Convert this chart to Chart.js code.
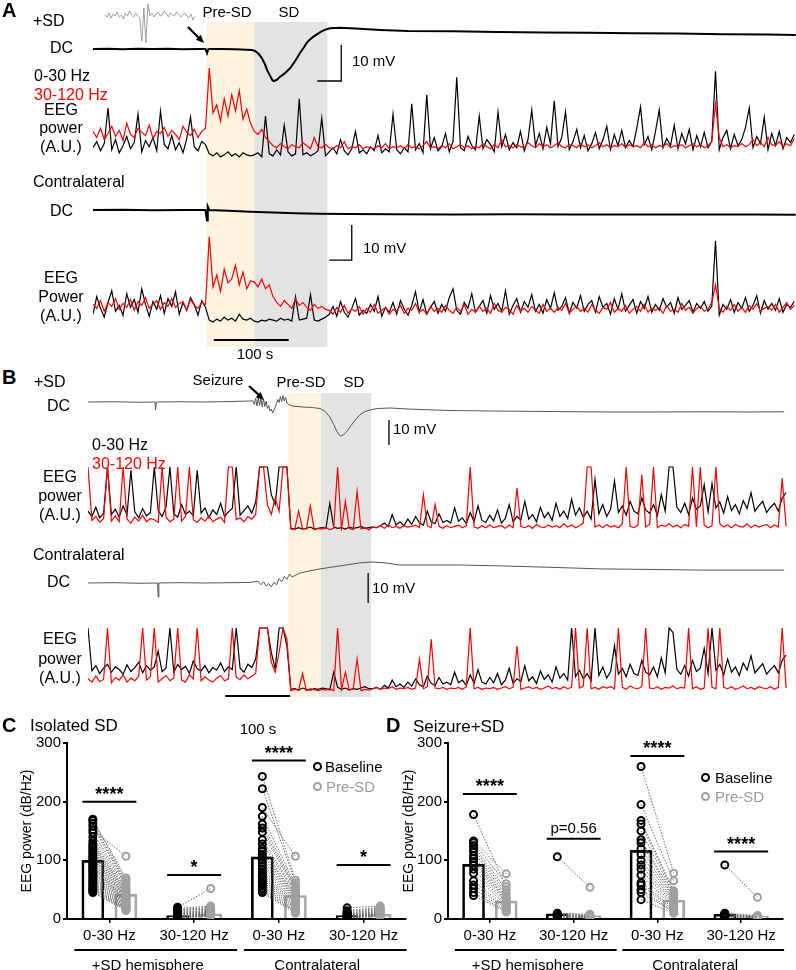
<!DOCTYPE html>
<html>
<head>
<meta charset="utf-8">
<script src="https://cdn.jsdelivr.net/npm/chart.js@4.4.1/dist/chart.umd.min.js"></script>
<style>
html, body { margin: 0; padding: 0; background: #fff; }
#page { position: relative; width: 796px; height: 970px; overflow: hidden; font-family: "Liberation Sans", Arial, sans-serif; }
.t { position: absolute; white-space: nowrap; line-height: 1; font-size: 16px; color: #000; transform: translateY(-50%); z-index: 3; }
.c { transform: translate(-50%, -50%); }
.red { color: #ff0000; }
.lbl { font-weight: bold; font-size: 20px; }
.s15 { font-size: 15px; }
.s17 { font-size: 17px; }
.dot { position: absolute; width: 5px; height: 5px; border: 2px solid #000; border-radius: 50%; z-index: 3; }
svg { position: absolute; left: 0; top: 0; z-index: 4; }
</style>
</head>
<body>
<div id="page">
  <!-- panel A -->
  <div class="t lbl" style="left:2px;top:10px">A</div>
  <div class="t" style="left:33px;top:21px">+SD</div>
  <div class="t c s15" style="left:227px;top:11px">Pre-SD</div>
  <div class="t c s15" style="left:289px;top:11px">SD</div>
  <div class="t" style="left:50px;top:48px">DC</div>
  <div class="t s15" style="left:352px;top:60px">10 mV</div>
  <div class="t" style="left:34px;top:76px">0-30 Hz</div>
  <div class="t red" style="left:34px;top:95px">30-120 Hz</div>
  <div class="t c" style="left:61px;top:110px">EEG</div>
  <div class="t c" style="left:61px;top:128px">power</div>
  <div class="t c" style="left:61px;top:147px">(A.U.)</div>
  <div class="t" style="left:33px;top:182px">Contralateral</div>
  <div class="t" style="left:50px;top:211px">DC</div>
  <div class="t s15" style="left:363px;top:247px">10 mV</div>
  <div class="t c" style="left:61px;top:278px">EEG</div>
  <div class="t c" style="left:61px;top:297px">Power</div>
  <div class="t c" style="left:61px;top:316px">(A.U.)</div>
  <div class="t c s15" style="left:255px;top:353px">100 s</div>
  <!-- panel B -->
  <div class="t lbl" style="left:2px;top:377px">B</div>
  <div class="t" style="left:34px;top:382px">+SD</div>
  <div class="t c s15" style="left:218px;top:379px">Seizure</div>
  <div class="t c s15" style="left:301px;top:381px">Pre-SD</div>
  <div class="t c s15" style="left:354px;top:381px">SD</div>
  <div class="t" style="left:47px;top:406px">DC</div>
  <div class="t s15" style="left:393px;top:428px">10 mV</div>
  <div class="t" style="left:92px;top:445px">0-30 Hz</div>
  <div class="t red" style="left:92px;top:464px">30-120 Hz</div>
  <div class="t c" style="left:60px;top:477px">EEG</div>
  <div class="t c" style="left:60px;top:496px">power</div>
  <div class="t c" style="left:60px;top:515px">(A.U.)</div>
  <div class="t" style="left:33px;top:555px">Contralateral</div>
  <div class="t" style="left:47px;top:582px">DC</div>
  <div class="t s15" style="left:372px;top:587px">10 mV</div>
  <div class="t c" style="left:60px;top:639px">EEG</div>
  <div class="t c" style="left:60px;top:659px">power</div>
  <div class="t c" style="left:60px;top:678px">(A.U.)</div>
  <div class="t c s15" style="left:258px;top:728px">100 s</div>
  <!-- panels C and D -->
  <div class="t lbl" style="left:2px;top:725px">C</div>
  <div class="t s17" style="left:30px;top:725px">Isolated SD</div>
  <div class="t lbl" style="left:386px;top:725px">D</div>
  <div class="t s17" style="left:413px;top:726px">Seizure+SD</div>
  <div class="dot" style="left:312.5px;top:761.5px"></div>
  <div class="t s15" style="left:325px;top:766px">Baseline</div>
  <div class="dot" style="left:312.5px;top:781.5px;border-color:#a0a0a0"></div>
  <div class="t s15" style="left:326px;top:786px;color:#9a9a9a">Pre-SD</div>
  <div class="dot" style="left:700.5px;top:772.5px"></div>
  <div class="t s15" style="left:715px;top:777px">Baseline</div>
  <div class="dot" style="left:700.5px;top:791.5px;border-color:#a0a0a0"></div>
  <div class="t s15" style="left:715px;top:796px;color:#9a9a9a">Pre-SD</div>
  <svg width="796" height="970">
    <line x1="188" y1="27" x2="199" y2="38" stroke="#000" stroke-width="2.2"/>
    <polygon points="204,43 195.8,39.8 200.8,34.8" fill="#000"/>
    <line x1="249" y1="386" x2="259" y2="395" stroke="#000" stroke-width="2.2"/>
    <polygon points="264,400 255.7,397.2 260.5,392" fill="#000"/>
  </svg>
</div>
<script>
// ---- panel A (isolated SD), time in s, EEG power in A.U.
const aDt = 5;
const aPreSD = [152, 215];
const aSD = [215, 312];
const aTimeBar = [161, 261];

const inset = [31,29,33,28,32,30,34,29,31,27,33,30,35,31,29,33,30,28,5,38,3,42,30,33,29,32,34,30,31,35,32,29,33,31,30,34,32,29,31,33,30,28,32,26,30];

const dcA1T = [0,20,40,60,80,100,120,140,150,152,154,170,190,205,212,216,221,225,229,232,236,239,241,245,249,256,263,270,276,281,285,289,293,298,303,309,316,330,350,383,420,480,540,600,660,720,780,840,900,937];
const dcA1V = [0,0.1,-0.1,0.1,0,0.1,-0.1,0,0,-1.2,0,0,-0.1,-0.2,-0.3,-0.55,-1.4,-2.5,-4.1,-5.8,-7.4,-8.6,-8.9,-8.6,-7.8,-6.7,-5.3,-3.2,-1.1,0.4,1.7,2.6,3.3,4.0,4.7,5.3,5.75,5.9,5.7,5.3,5.0,4.9,4.7,4.6,4.5,4.4,4.3,4.1,4.0,3.9];
const dcA2T = [0,40,80,120,150,152,153,155,180,210,240,270,300,340,400,480,560,640,720,800,880,937];
const dcA2V = [0,0.1,-0.1,0,0,-3.0,1.0,0,-0.2,-0.5,-0.7,-0.9,-1.05,-1.15,-1.2,-1.3,-1.2,-1.3,-1.25,-1.3,-1.3,-1.35];
const barA1T = [331, 331, 299], barA1V = [1.11, -8.89, -8.89];
const barA2T = [345, 345, 315], barA2V = [-4.29, -14.29, -14.29];

const eegA1Black = [14,20,11,18,53,12,22,9,16,25,13,19,47,10,21,15,24,11,50,17,13,26,12,19,9,23,44,15,11,20,17,
  8,6,9,5,7,10,6,8,5,9,7,6,
  7,9,5,45,8,6,12,7,36,10,6,8,62,7,9,6,8,11,43,6,
  10,14,8,22,11,7,13,30,9,12, 8,15,11,26,9,13,10,47,12,8, 14,10,57,12,18,9,66,13,24,11,
  15,28,10,20,83,14,11,25,16,12, 45,13,22,17,10,49,15,27,12,19, 14,30,11,22,51,16,28,13,34,18,
  60,15,24,49,12,20,32,14,26,11, 18,29,13,22,35,12,27,16,31,14, 21,15,33,54,17,25,12,30,51,14,
  23,16,36,13,28,18,32,12,26,15, 29,14,20,89,12,24,31,13,27,16, 22,34,53,14,25,18,44,12,28,16,
  30,13,24,19,27];
const eegA1Red = [30,24,33,22,28,35,25,31,21,38,27,24,33,29,26,36,23,30,28,34,25,31,27,22,35,29,26,32,24,30,33,
  92,48,56,40,62,45,66,50,70,42,52,38,
  30,27,32,24,20,16,14,18,15,13,17,15,14,19,16,13,24,15,14,17,
  14,13,16,14,20,13,15,14,17,13, 15,14,13,16,14,18,13,15,14,16, 13,17,14,15,13,16,20,14,15,13,
  16,14,18,13,15,17,14,16,13,15, 14,18,15,13,17,14,22,15,16,14, 17,15,14,19,16,14,18,15,17,14,
  16,19,15,14,17,16,14,18,15,17, 14,16,19,15,17,14,16,15,18,14, 17,15,16,14,19,15,17,14,16,15,
  18,14,16,15,17,14,16,18,15,17, 14,16,20,57,24,15,17,14,16,15, 18,15,17,22,16,19,15,24,17,16,
  20,15,18,16,23];
const eegA2Black = [12,30,18,9,24,36,15,21,11,33,19,27,14,38,22,10,25,17,31,13,28,20,35,12,24,16,29,22,11,26,19,
  6,4,7,5,9,6,8,5,12,7,6,8,
  5,4,6,5,7,6,5,8,6,7,5,30,6,7,8,32,6,5,7,9,
  12,20,10,25,14,9,18,28,11,16, 13,22,15,30,10,19,14,24,12,26, 17,11,21,35,14,27,12,19,25,13,
  22,15,29,38,16,12,24,18,33,14, 20,26,13,31,17,23,15,36,12,21, 28,14,25,19,32,15,22,13,27,18,
  34,16,20,29,13,24,18,31,15,22, 26,14,30,19,23,12,28,17,33,15, 21,27,13,25,18,30,14,22,16,28,
  19,24,13,29,17,21,26,14,23,18, 25,15,20,87,11,22,17,27,14,24, 18,29,15,21,31,13,26,17,23,16,
  28,14,22,19,25];
const eegA2Red = [22,18,26,15,24,20,28,17,23,19,27,16,25,21,29,18,22,26,17,24,20,28,19,23,25,16,27,21,18,24,22,
  91,40,52,35,58,44,48,62,42,55,38,46,
  45,40,48,38,42,30,24,20,26,22,18,28,21,24,19,16,22,18,20,17,
  16,12,19,14,21,13,17,15,20,12, 18,14,22,13,16,19,12,17,15,21, 13,18,16,23,14,17,12,20,15,18,
  14,21,16,13,19,15,22,12,17,14, 20,15,18,13,23,16,14,19,17,12, 21,15,18,14,20,16,13,22,15,18,
  14,19,16,23,13,17,20,15,18,14, 22,16,13,19,17,24,14,18,15,21, 13,17,20,15,22,14,18,16,19,13,
  21,15,17,14,23,16,19,13,18,20, 15,17,24,42,18,14,20,16,22,15, 19,14,21,17,23,15,18,20,16,22,
  14,19,24,17,21];

// ---- panel B (seizure + SD)
const bDt = 6;
const bPreSD = [309, 358];
const bSD = [358, 435];
const bTimeBar = [211, 311];

const dcB1T = [0,40,80,103,104,105,140,180,220,250,254,256,258,260,262,264,266,268,270,272,274,276,278,280,282,284,286,288,290,292,294,296,298,300,302,304,306,308,314,330,345,357,365,372,378,383,388,393,398,403,410,418,426,434,445,465,500,557,620,711,800,865,950,1020,1071];
const dcB1V = [0,0.1,-0.1,0,-3.2,0,0.1,0,0.2,0.4,0.5,-1.0,1.4,-1.6,1.8,-1.4,1.6,-2.0,1.2,-1.8,0.4,-2.6,-1.4,-3.6,-2.8,-4.4,-3.2,-2.2,-0.6,1.0,-0.2,2.2,0.2,2.6,0.4,1.8,-0.4,-0.8,-1.6,-2.0,-2.2,-2.6,-3.8,-6.0,-9.0,-11.8,-13.6,-13.2,-11.8,-10.0,-7.6,-5.2,-3.8,-3.2,-2.6,-2.4,-2.9,-3.4,-3.6,-3.8,-4.0,-4.0,-3.9,-4.0,-3.9];
const dcB2T = [0,40,80,107,108,109,140,180,220,250,262,266,270,274,278,282,286,290,294,298,302,306,310,314,326,340,357,372,388,403,418,437,457,480,572,634,700,788,870,942,1000,1071];
const dcB2V = [0,0.1,-0.1,0,-4.7,0,0.1,0,0.1,0.2,0.6,-0.6,0.4,-1.0,-0.2,-1.3,0.2,-0.6,1.4,0.4,2.2,1.2,3.0,2.0,3.3,4.0,4.7,5.2,5.7,6.2,6.7,7.0,6.7,6.0,6.0,5.7,5.3,4.7,4.5,4.3,4.3,4.3];
const barB1T = [463, 463], barB1V = [-7.2, -17.2];
const barB2T = [431, 431], barB2V = [3.33, -6.67];

const eegB1Black = [30,22,36,20,27,97,25,33,21,38, 24,92,29,20,34,23,28,97,31,22, 36,97,26,21,40,25,30,23,92,27, 35,20,32,25,42,22,29,34,97,24, 31,38,27,44,
  97,97,97,55,40,97,97,97,
  4,3,5,3,4,6,3,4,
  5,4,42,6,4,5,3,6,4,5,7,4,5,
  6,5,8,12,7,25,9,14,8,18, 10,22,12,9,30,14,11,26,13,16, 12,35,15,20,11,28,14,38,16,13,
  24,15,32,12,19,40,14,22,17,45, 18,25,14,36,20,28,16,42,22,30, 19,48,24,35,21,30,18,78,26,40,
  22,33,76,28,38,24,45,30,26,50, 32,27,40,24,55,30,97,97,36,28, 42,25,50,33,38,70,29,72,35,44,
  27,52,31,40,26,46,34,58,30,38, 45,28,36,42,30,50,58];
const eegB1Red = [97,16,22,13,19,97,15,23,14,97, 18,12,21,15,24,14,19,17,13,97, 21,14,18,97,15,22,97,17,13,20, 15,23,14,18,21,13,97,97,17,20, 14,22,18,25,
  97,97,40,25,50,30,97,97,
  3,2,30,4,3,38,2,4,
  3,5,2,4,97,3,45,4,2,60,3,5,2,
  6,5,8,4,9,5,7,4,8,6, 7,9,5,55,8,5,40,7,4,8, 5,7,9,5,8,97,6,4,8,5,
  9,5,7,8,4,9,5,65,7,5, 8,4,10,6,5,9,6,8,5,11, 6,9,5,8,12,97,97,6,9,5,
  10,6,8,5,11,97,7,5,9,85, 6,10,97,5,9,7,11,6,9,5, 10,7,97,6,97,9,5,8,97,11,
  6,9,5,10,7,6,11,5,9,6, 8,10,5,9,6,80,7];
const eegB2Black = [97,32,40,28,36,42,30,38,34,27, 41,31,37,45,29,40,33,38,62,31, 36,97,30,42,34,39,28,47,35,32, 40,29,37,33,44,31,38,34,97,36, 30,42,37,50,
  97,97,97,60,35,97,97,70,
  4,5,3,6,4,3,5,4,
  6,5,3,30,7,4,6,3,5,4,6,8,5,
  5,7,4,10,6,18,8,12,7,15, 9,20,11,8,24,13,10,22,12,15, 11,30,14,18,10,26,13,34,15,12,
  22,14,28,11,18,36,13,20,16,40, 17,23,13,32,19,26,15,38,21,28, 18,97,23,33,20,28,17,97,25,38,
  21,31,70,27,36,23,42,28,25,48, 30,26,38,23,52,29,97,90,34,27, 40,24,48,31,36,66,28,97,33,42,
  26,50,30,38,25,44,33,55,29,36, 43,27,34,40,29,48,56];
const eegB2Red = [20,15,24,16,19,97,14,22,18,26, 15,21,17,24,97,18,23,97,15,20, 25,17,21,97,18,15,26,20,97,17, 23,18,15,21,25,17,20,97,22,19, 26,20,24,28,
  97,97,97,45,30,60,97,80,
  2,4,3,28,2,5,3,2,
  4,3,5,2,97,4,30,3,5,50,2,4,3,
  5,7,4,6,5,8,4,6,5,7, 4,6,50,5,8,80,6,5,7,4, 6,5,7,4,8,97,5,7,4,6,
  5,7,4,6,8,5,7,70,4,6, 8,5,7,4,6,9,5,7,4,8, 5,7,97,6,9,97,5,7,4,8,
  6,8,5,97,7,4,9,6,5,8, 97,6,5,8,4,7,6,9,5,7, 6,97,5,8,4,6,97,7,5,97,
  7,5,8,4,6,9,5,7,4,8, 6,5,8,4,7,97,6];

// ---- panels C and D: EEG power (dB/Hz), Baseline vs Pre-SD
const catLabels = ['0-30 Hz', '30-120 Hz', '0-30 Hz', '30-120 Hz'];
const groupLabels = ['+SD hemisphere', 'Contralateral'];

const cBarBase = [100, 6, 106, 6];
const cBarPre = [42, 9, 40, 8];
const cBase0 = [170,168,163,158,152,147,140,133,128,125,122,118,115,112,108,105,102,98,95,92,90,88,85,82,80,77,74,71,68,65,62,60,57,54,52,50,47,45];
const cPre0 = [70,66,62,60,107,58,55,52,50,48,46,44,42,40,38,37,36,34,33,31,30,29,28,27,26,25,24,23,22,21,20,19,18,17,17,16,15,15];
const cBase1 = [20,18,16,15,14,12,11,10,9,8,7,6,5,5,4,4,3,3,2,2];
const cPre1 = [52,22,20,18,17,15,14,13,12,12,11,10,9,9,8,7,7,6,5,5];
const cBase2 = [243,222,190,175,162,155,148,135,128,120,115,110,105,100,95,90,85,80,76,72,68,64,60,56,52,48,45];
const cPre2 = [66,62,107,58,55,52,50,47,45,42,40,38,36,34,32,30,28,26,24,22,20,18,16,14,13,12,10];
const cBase3 = [19,14,12,10,9,8,7,6,6,5,4,4,3,3,2,2,2];
const cPre3 = [22,20,19,17,16,14,13,12,11,10,9,8,8,7,6,5,5];
const cSigLevel = [200, 75, 270, 92];
const cSigText = ['****', '*', '****', '*'];

const dBarBase = [93, 9, 117, 8];
const dBarPre = [31, 6, 32, 5];
const dBase0 = [178,133,130,125,120,115,108,103,98,92,85,78,65,58,52,45,40];
const dPre0 = [55,77,60,50,45,40,36,33,30,28,25,22,20,18,15,13,12];
const dBase1 = [106,10,9,8,7,6,5,4,3];
const dPre1 = [54,8,7,6,5,4,3,3,2];
const dBase2 = [260,195,168,162,150,135,130,120,110,100,92,85,75,62,58,50,45,33];
const dPre2 = [78,65,48,45,42,40,36,33,30,28,25,22,20,18,15,13,12,10];
const dBase3 = [92,10,9,8,7,6,5,4,3];
const dPre3 = [37,6,5,4,4,3,3,2,2];
const dSigLevel = [213, 137, 278, 115];
const dSigText = ['****', 'p=0.56', '****', '****'];

const FONT = '"Liberation Sans", Arial, sans-serif';
Chart.defaults.font.family = FONT;
Chart.defaults.color = '#000';

const page = document.getElementById('page');
function place(l, t, w, h) {
  const c = document.createElement('canvas');
  c.width = w; c.height = h;
  c.style.cssText = 'position:absolute;left:' + l + 'px;top:' + t + 'px;width:' + w + 'px;height:' + h + 'px;';
  page.appendChild(c);
  return c;
}

const quiet = {
  responsive: false, animation: false, events: [],
  layout: { padding: 0 },
  plugins: { legend: { display: false }, tooltip: { enabled: false } }
};

function series(vals, dt) { return vals.map((v, i) => ({ x: i * dt, y: v })); }
function pairs(ts, vs) { return ts.map((t, i) => ({ x: t, y: vs[i] })); }
function trace(data, color, width) {
  return { data: data, borderColor: color, borderWidth: width, pointRadius: 0, fill: false, tension: 0 };
}

function traceChart(box, tMax, yMin, yMax, datasets) {
  return new Chart(place(box[0], box[1], box[2], box[3]), {
    type: 'line',
    data: { datasets: datasets },
    options: Object.assign({}, quiet, {
      scales: {
        x: { type: 'linear', display: false, min: 0, max: tMax },
        y: { type: 'linear', display: false, min: yMin, max: yMax }
      }
    })
  });
}

function shadeChart(box, tMax, pre, sd, timeBar, barUp) {
  return new Chart(place(box[0], box[1], box[2], box[3]), {
    type: 'bar',
    data: {
      labels: [''],
      datasets: [
        { data: [pre], backgroundColor: '#fdf3de', borderWidth: 0, grouped: false, categoryPercentage: 1, barPercentage: 1 },
        { data: [sd], backgroundColor: '#e3e3e3', borderWidth: 0, grouped: false, categoryPercentage: 1, barPercentage: 1 }
      ]
    },
    options: Object.assign({}, quiet, {
      indexAxis: 'y',
      scales: {
        x: { type: 'linear', display: false, min: 0, max: tMax },
        y: { display: false }
      }
    }),
    plugins: [{
      id: 'timeBar',
      afterDatasetsDraw(chart) {
        const x = chart.scales.x, ctx = chart.ctx, yy = chart.chartArea.bottom - barUp;
        ctx.save();
        ctx.strokeStyle = '#000'; ctx.lineWidth = 2;
        ctx.beginPath();
        ctx.moveTo(x.getPixelForValue(timeBar[0]), yy);
        ctx.lineTo(x.getPixelForValue(timeBar[1]), yy);
        ctx.stroke();
        ctx.restore();
      }
    }]
  });
}

// panel A
shadeChart([93, 22, 705, 325], 940, aPreSD, aSD, aTimeBar, 7);
traceChart([105, 3, 90, 43], inset.length - 1, 0, 43, [trace(series(inset, 1), '#8a8a8a', 0.8)]);
traceChart([93, 18, 705, 67], 940, -10, 8.61, [
  trace(pairs(dcA1T, dcA1V), '#000', 2),
  trace(pairs(barA1T, barA1V), '#000', 1.3)
]);
traceChart([93, 60, 705, 102], 940, 0, 100, [
  trace(series(eegA1Red, aDt), '#ff0000', 1.2),
  trace(series(eegA1Black, aDt), '#000', 1.2)
]);
traceChart([93, 195, 705, 68], 940, -15.14, 4.29, [
  trace(pairs(dcA2T, dcA2V), '#000', 2),
  trace(pairs(barA2T, barA2V), '#000', 1.3)
]);
traceChart([93, 228, 705, 98], 940, 0, 100, [
  trace(series(eegA2Red, aDt), '#ff0000', 1.2),
  trace(series(eegA2Black, aDt), '#000', 1.2)
]);

// panel B
shadeChart([88, 393, 702, 304], 1080, bPreSD, bSD, bTimeBar, 1);
traceChart([88, 390, 702, 58], 1080, -18.4, 4.8, [
  trace(pairs(dcB1T, dcB1V), '#555', 1),
  trace(pairs(barB1T, barB1V), '#000', 1.3)
]);
traceChart([88, 465, 702, 66], 1080, 0, 100, [
  trace(series(eegB1Red, bDt), '#ff0000', 1.2),
  trace(series(eegB1Black, bDt), '#000', 1.2)
]);
traceChart([88, 555, 702, 51], 1080, -7.67, 9.33, [
  trace(pairs(dcB2T, dcB2V), '#555', 1),
  trace(pairs(barB2T, barB2V), '#000', 1.3)
]);
traceChart([88, 626, 702, 66], 1080, 0, 100, [
  trace(series(eegB2Red, bDt), '#ff0000', 1.2),
  trace(series(eegB2Black, bDt), '#000', 1.2)
]);

// panels C and D
const SHIFT = 0.195; // baseline left of the category centre, pre-SD right of it

function statDecor(sigLevel, sigText) {
  return {
    id: 'statDecor',
    afterDatasetsDraw(chart) {
      const ctx = chart.ctx, xs = chart.scales.xs, y = chart.scales.y, ca = chart.chartArea;
      ctx.save();
      ctx.strokeStyle = '#000'; ctx.fillStyle = '#000'; ctx.lineWidth = 2; ctx.textAlign = 'center';
      sigLevel.forEach((lv, g) => {
        const cx = xs.getPixelForValue(g), py = y.getPixelForValue(lv);
        ctx.beginPath(); ctx.moveTo(cx - 27, py); ctx.lineTo(cx + 27, py); ctx.stroke();
        const star = /^\*+$/.test(sigText[g]);
        ctx.font = star ? 'bold 18px ' + FONT : '15px ' + FONT;
        ctx.textBaseline = 'alphabetic';
        ctx.fillText(sigText[g], cx, py - (star ? 2 : 6));
      });
      groupLabels.forEach((label, k) => {
        const x0 = xs.getPixelForValue(2 * k) - 35, x1 = xs.getPixelForValue(2 * k + 1) + 43;
        ctx.beginPath(); ctx.moveTo(x0, ca.bottom + 31); ctx.lineTo(x1, ca.bottom + 31); ctx.stroke();
        ctx.font = '15px ' + FONT; ctx.textBaseline = 'middle';
        ctx.fillText(label, (x0 + x1) / 2 - 8, ca.bottom + 47);
      });
      ctx.restore();
    }
  };
}

function statChart(box, axisW, titlePad, barBase, barPre, base, pre, sigLevel, sigText) {
  const links = [], bDots = [], pDots = [];
  base.forEach((grp, g) => grp.forEach((b, k) => {
    const p = pre[g][k];
    bDots.push({ x: g - SHIFT, y: b });
    pDots.push({ x: g + SHIFT, y: p });
    links.push({ x: g - SHIFT, y: b }, { x: g + SHIFT, y: p }, { x: g, y: null });
  }));
  const barsB = barBase.map((v, g) => ({ x: g - SHIFT, y: v }));
  const barsP = barPre.map((v, g) => ({ x: g + SHIFT, y: v }));
  return new Chart(place(box[0], box[1], box[2], box[3]), {
    type: 'bar',
    data: {
      labels: catLabels,
      datasets: [
        { type: 'line', data: bDots, xAxisID: 'xs', yAxisID: 'y', showLine: false, order: 1,
          pointRadius: 3.5, pointBorderWidth: 2, pointBorderColor: '#000', pointBackgroundColor: 'rgba(255,255,255,0)' },
        { type: 'line', data: pDots, xAxisID: 'xs', yAxisID: 'y', showLine: false, order: 1,
          pointRadius: 3.5, pointBorderWidth: 2, pointBorderColor: '#a0a0a0', pointBackgroundColor: 'rgba(255,255,255,0)' },
        { type: 'line', data: links, xAxisID: 'xs', yAxisID: 'y', order: 2, spanGaps: false,
          borderColor: '#6a6a6a', borderWidth: 1, borderDash: [1.5, 1.5], pointRadius: 0 },
        { type: 'bar', data: barsB, xAxisID: 'xs', yAxisID: 'y', order: 3, grouped: false, barThickness: 22,
          backgroundColor: 'rgba(255,255,255,0)', borderColor: '#000', borderWidth: 2 },
        { type: 'bar', data: barsP, xAxisID: 'xs', yAxisID: 'y', order: 3, grouped: false, barThickness: 22,
          backgroundColor: 'rgba(255,255,255,0)', borderColor: '#a6a6a6', borderWidth: 2 }
      ]
    },
    options: Object.assign({}, quiet, {
      layout: { padding: { top: 10, right: 2, left: 0, bottom: 0 } },
      scales: {
        x: {
          type: 'category', offset: true,
          grid: { display: true, drawOnChartArea: false, offset: false, tickLength: 4, color: '#000', lineWidth: 1.5 },
          border: { color: '#000', width: 2 },
          ticks: { color: '#000', font: { size: 15 }, padding: 4, autoSkip: false, maxRotation: 0 },
          afterFit: (s) => { s.height = 51; }
        },
        xs: { type: 'linear', display: false, offset: false, min: -0.5, max: 3.5 },
        y: {
          min: 0, max: 300,
          ticks: { stepSize: 100, color: '#000', font: { size: 15 }, padding: 2 },
          grid: { drawOnChartArea: false, color: '#000', lineWidth: 2, tickLength: 4 },
          border: { color: '#000', width: 2 },
          title: { display: true, text: 'EEG power (dB/Hz)', color: '#000', font: { size: 14 }, padding: { top: titlePad, bottom: 0 } },
          afterFit: (s) => { s.width = axisW; }
        }
      }
    }),
    plugins: [statDecor(sigLevel, sigText)]
  });
}

statChart([0, 732, 412, 238], 67, 19, cBarBase, cBarPre,
  [cBase0, cBase1, cBase2, cBase3], [cPre0, cPre1, cPre2, cPre3], cSigLevel, cSigText);
statChart([398, 732, 391, 238], 50, 3, dBarBase, dBarPre,
  [dBase0, dBase1, dBase2, dBase3], [dPre0, dPre1, dPre2, dPre3], dSigLevel, dSigText);
</script>
</body>
</html>
